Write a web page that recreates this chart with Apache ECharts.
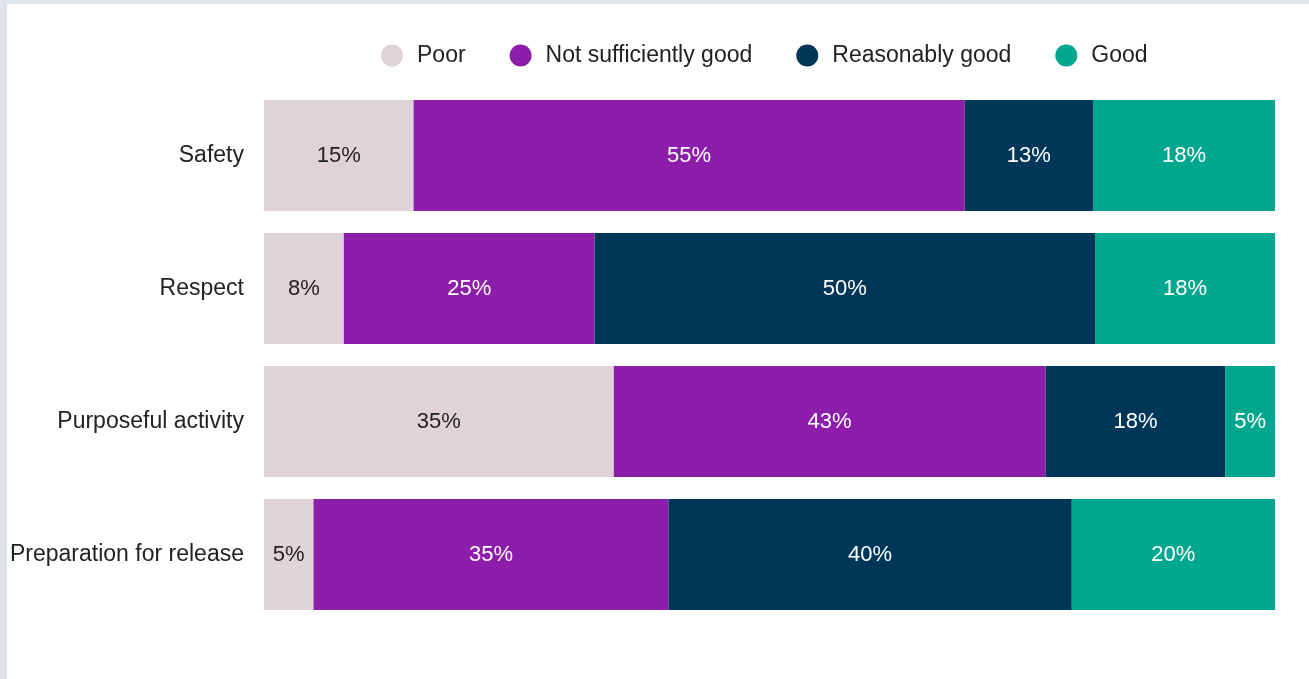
<!DOCTYPE html>
<html>
<head>
<meta charset="utf-8">
<script src="https://cdn.jsdelivr.net/npm/echarts@6/dist/echarts.min.js"></script>
<style>
html,body{margin:0;padding:0;width:1309px;height:679px;background:#dfe3ec;overflow:hidden;}
#chart{position:absolute;left:7px;top:4px;width:1302px;height:675px;background:#ffffff;}
</style>
</head>
<body>
<div id="chart"></div>
<script>
const categories = ['Safety', 'Respect', 'Purposeful activity', 'Preparation for release'];
const seriesNames = ['Poor', 'Not sufficiently good', 'Reasonably good', 'Good'];
const poor = [14.8, 7.9, 34.6, 4.9];
const notSufficientlyGood = [54.5, 24.8, 42.7, 35.1];
const reasonablyGood = [12.7, 49.5, 17.8, 39.9];
const good = [18.0, 17.8, 4.9, 20.1];
const colors = ['#dfd2d9', '#8d1eab', '#003658', '#00a78f'];
const labelColors = ['#222222', '#ffffff', '#ffffff', '#ffffff'];

const FONT = '"Liberation Sans", Arial, sans-serif';
const dataSets = [poor, notSufficientlyGood, reasonablyGood, good];

const chart = echarts.init(document.getElementById('chart'));
chart.setOption({
  animation: false,
  textStyle: { fontFamily: FONT },
  legend: {
    left: 369,
    top: 35,
    itemWidth: 22,
    itemHeight: 22,
    itemGap: 44,
    icon: 'circle',
    textStyle: { fontSize: 23, color: '#222222', fontFamily: FONT, padding: [0, 0, 0, 9] },
    data: seriesNames
  },
  grid: { left: 256, right: 34, top: 85, height: 532, containLabel: false },
  xAxis: { type: 'value', min: 0, max: 100, show: false },
  yAxis: {
    type: 'category',
    data: categories,
    inverse: true,
    axisLine: { show: false },
    axisTick: { show: false },
    axisLabel: { fontSize: 23, color: '#222222', margin: 20, fontFamily: FONT }
  },
  series: seriesNames.map((name, i) => ({
    name: name,
    type: 'bar',
    stack: 'total',
    barCategoryGap: '16.5%',
    itemStyle: { color: colors[i] },
    label: {
      show: true,
      position: 'inside',
      color: labelColors[i],
      fontSize: 22,
      fontFamily: FONT,
      formatter: p => Math.round(p.value) + '%'
    },
    data: dataSets[i]
  }))
});
</script>
</body>
</html>
